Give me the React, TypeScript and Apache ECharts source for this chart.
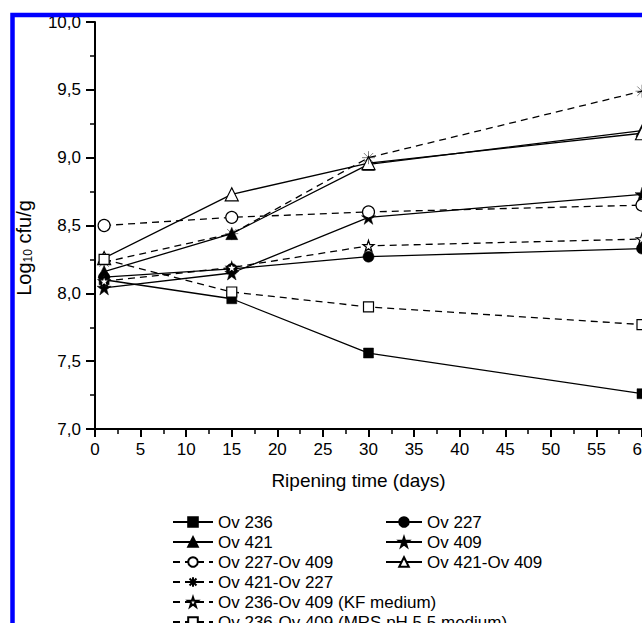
import React, { useEffect, useRef } from "react";
import * as echarts from "echarts";

const days = [1, 15, 30, 60];
const ov236 = [8.1, 7.96, 7.56, 7.26];
const ov227 = [8.12, 8.18, 8.27, 8.33];
const ov421 = [8.16, 8.44, 8.95, 9.2];
const ov409 = [8.04, 8.15, 8.56, 8.73];
const ov227_409 = [8.5, 8.56, 8.6, 8.65];
const ov421_409 = [8.26, 8.73, 8.96, 9.18];
const ov421_227 = [8.23, 8.44, 9.0, 9.49];
const ov236_409kf = [8.09, 8.19, 8.35, 8.4];
const ov236_409mrs = [8.25, 8.01, 7.9, 7.77];

const yTicks = { min: 7, max: 10, interval: 0.5 };
const xTicks = { min: 0, max: 60, interval: 5 };

const STAR = "path://M50,0 L61.8,35.5 L99,35.5 L69,57.5 L80.3,93 L50,71 L19.7,93 L31,57.5 L1,35.5 L38.2,35.5 Z";
const ASTER = "path://M50,0 L50,100 M14,14 L86,86 M14,86 L86,14 M0,50 L100,50";

const FONT = "'Liberation Sans', Arial, sans-serif";

function mk(name: string, vals: number[], symbol: string, size: number, filled: boolean, dashed: boolean) {
  return {
    name,
    type: "line",
    data: days.map((d, i) => [d, vals[i]]),
    symbol,
    symbolSize: size,
    showAllSymbol: true,
    lineStyle: { color: "#000", width: 1.3, type: dashed ? [7, 5] : "solid" },
    itemStyle: {
      color: filled ? "#000" : "#fff",
      borderColor: "#000",
      borderWidth: filled ? 0.5 : 1.2,
    },
    emphasis: { disabled: true },
  };
}

export default function App() {
  const ref = useRef<HTMLDivElement>(null);
  useEffect(() => {
    if (!ref.current) return;
    const chart = echarts.init(ref.current, null, { renderer: "svg" });
    const legendText = { fontSize: 17, color: "#000", fontFamily: FONT, lineHeight: 20 };
    chart.setOption({
      animation: false,
      backgroundColor: "#fff",
      color: ["#000"],
      grid: { left: 95, top: 22, right: 0, bottom: 194, containLabel: false, outerBoundsMode: "none" },
      xAxis: {
        type: "value",
        min: xTicks.min,
        max: xTicks.max,
        interval: xTicks.interval,
        name: "Ripening time (days)",
        nameLocation: "middle",
        nameGap: 42,
        nameTextStyle: { fontSize: 19, color: "#000", fontFamily: FONT, padding: [0, 20, 0, 0] },
        axisLine: { lineStyle: { color: "#000", width: 2 } },
        axisTick: { inside: false, length: 8, lineStyle: { color: "#000", width: 2 } },
        minorTick: { show: true, splitNumber: 2, length: 5, lineStyle: { color: "#000", width: 1.5 } },
        axisLabel: { fontSize: 17, color: "#000", fontFamily: FONT, margin: 12 },
        splitLine: { show: false },
      },
      yAxis: {
        type: "value",
        min: yTicks.min,
        max: yTicks.max,
        interval: yTicks.interval,
        axisLine: { show: true, lineStyle: { color: "#000", width: 2 } },
        axisTick: { show: true, inside: false, length: 9, lineStyle: { color: "#000", width: 2 } },
        minorTick: { show: true, splitNumber: 2, length: 5, lineStyle: { color: "#000", width: 1.5 } },
        axisLabel: {
          fontSize: 17,
          color: "#000",
          fontFamily: FONT,
          margin: 14,
          formatter: (v: number) => v.toFixed(1).replace(".", ","),
        },
        splitLine: { show: false },
      },
      legend: [
        {
          left: 172,
          top: 512,
          height: 160,
          orient: "vertical",
          itemWidth: 40,
          itemHeight: 12,
          itemGap: 0,
          padding: 0,
          selectedMode: false,
          textStyle: legendText,
          data: [
            "Ov 236",
            "Ov 421",
            "Ov 227-Ov 409",
            "Ov 421-Ov 227",
            "Ov 236-Ov 409 (KF medium)",
            "Ov 236-Ov 409 (MRS pH 5.5 medium)",
          ],
        },
        {
          left: 385,
          top: 512,
          orient: "vertical",
          itemWidth: 36,
          itemHeight: 12,
          itemGap: 0,
          padding: 0,
          selectedMode: false,
          textStyle: legendText,
          data: ["Ov 227", "Ov 409", "Ov 421-Ov 409"],
        },
      ],
      series: [
        mk("Ov 236", ov236, "rect", 10, true, false),
        mk("Ov 227", ov227, "circle", 11, true, false),
        mk("Ov 421", ov421, "triangle", 12, true, false),
        mk("Ov 409", ov409, STAR, 14, true, false),
        mk("Ov 227-Ov 409", ov227_409, "circle", 12, false, true),
        mk("Ov 421-Ov 409", ov421_409, "triangle", 13, false, false),
        mk("Ov 421-Ov 227", ov421_227, ASTER, 13, true, true),
        mk("Ov 236-Ov 409 (KF medium)", ov236_409kf, STAR, 11, false, true),
        mk("Ov 236-Ov 409 (MRS pH 5.5 medium)", ov236_409mrs, "rect", 10, false, true),
      ],
      graphic: [
        {
          type: "text",
          x: 24,
          y: 248,
          rotation: Math.PI / 2,
          z: 50,
          style: {
            text: "{a|Log}{b|10}{a| cfu/g}",
            align: "center",
            verticalAlign: "middle",
            rich: {
              a: { fontSize: 20, fontFamily: FONT, fill: "#000", lineHeight: 20 },
              b: { fontSize: 12, fontFamily: FONT, fill: "#000", lineHeight: 20, padding: [8, 0, 0, 0] },
            },
          },
        },
        {
          type: "rect",
          z: 100,
          shape: { x: 12.5, y: 15, width: 800, height: 800 },
          style: { fill: "none", stroke: "#0000ff", lineWidth: 4.5 },
        },
      ],
    });
    return () => chart.dispose();
  }, []);
  return (
    <div
      ref={ref}
      style={{ position: "fixed", left: 0, top: 0, width: 642, height: 623, background: "#fff" }}
    />
  );
}
